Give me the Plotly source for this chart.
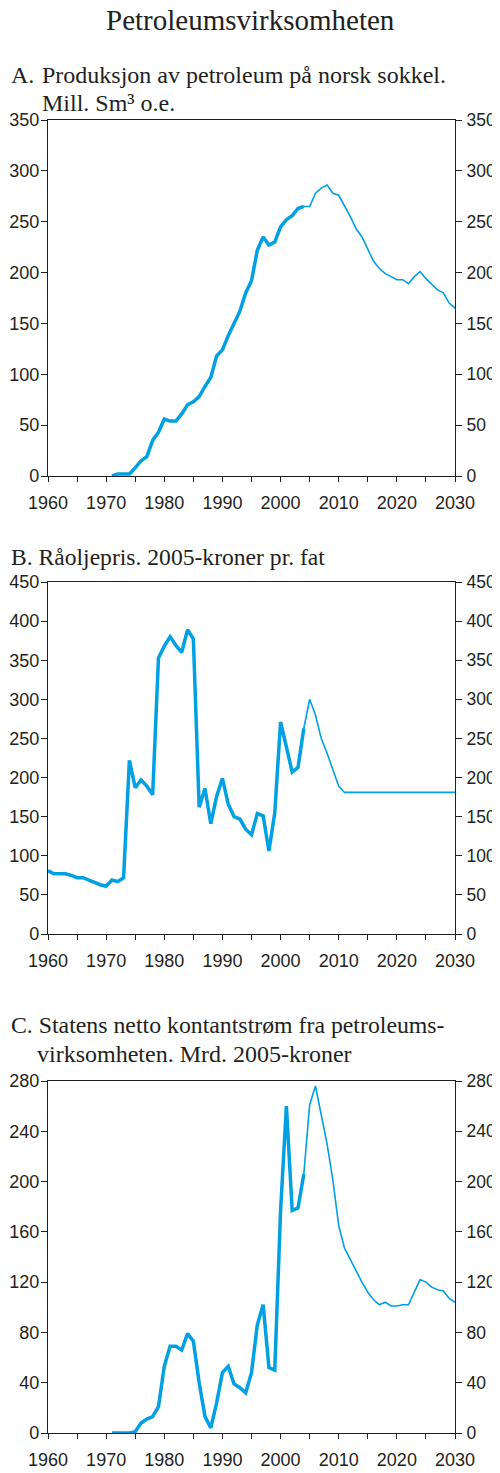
import plotly.graph_objects as go

# Panel A: production, mill. Sm3 o.e.
years_a_hist = list(range(1971, 2005))
prod_hist = [0, 2, 2, 2, 8, 15, 19, 35, 43, 56, 54, 54, 61, 70, 73, 78, 88, 97, 118, 124,
             138, 151, 162, 180, 192, 222, 235, 227, 230, 245, 252, 256, 263, 265]
years_a_proj = list(range(2004, 2031))
prod_proj = [265, 265, 278, 283, 286, 278, 276, 266, 255, 243, 235, 223, 211, 204, 199,
             196, 193, 193, 189, 196, 201, 194, 188, 183, 180, 170, 165]

# Panel B: crude oil price, 2005-kroner per barrel
years_b_hist = list(range(1960, 2005))
price_hist = [81, 77, 77, 77, 75, 72, 72, 69, 65, 63, 61, 69, 67, 72, 222, 187, 197, 189,
              178, 353, 368, 380, 369, 360, 389, 377, 162, 186, 141, 176, 199, 166, 150,
              147, 134, 127, 154, 151, 106, 155, 271, 240, 207, 213, 263]
years_b_proj = list(range(2004, 2031))
price_proj = [263, 300, 280, 250, 231, 210, 189, 181, 181, 181, 181, 181, 181, 181, 181,
              181, 181, 181, 181, 181, 181, 181, 181, 181, 181, 181, 181]

# Panel C: state's net cash flow, bn 2005-kroner
years_c_hist = list(range(1971, 2005))
cash_hist = [0, 0, 0, 0, 1, 8, 11, 13, 21, 53, 69, 69, 66, 79, 73, 40, 13, 4, 24, 48,
             53, 39, 36, 32, 48, 86, 102, 52, 50, 177, 260, 177, 179, 206]
years_c_proj = list(range(2004, 2031))
cash_proj = [206, 261, 276, 253, 230, 201, 165, 147, 138, 128, 120, 112, 106, 102, 104,
             101, 101, 102, 102, 112, 122, 120, 116, 114, 113, 107, 104]

x_tickvals = [1960, 1970, 1980, 1990, 2000, 2010, 2020, 2030]

y_ticks_a = [0, 50, 100, 150, 200, 250, 300, 350]
y_ticks_b = [0, 50, 100, 150, 200, 250, 300, 350, 400, 450]
y_ticks_c = [0, 40, 80, 120, 160, 200, 240, 280]

# page body has an 8px margin, so the figure sits 8px in from the window corner
OFF = 8
W, H = 492, 1465
BLUE = "#00a0e3"
INK = "#231f20"
SANS = "Liberation Sans, Arial, sans-serif"
SERIF = "Liberation Serif, Times New Roman, serif"


def fx(px):
    return (px - OFF) / W


def fy(py):
    return 1 - (py - OFF) / H


x_dom = [fx(48), fx(455)]
panels = [
    (years_a_hist, prod_hist, years_a_proj, prod_proj, y_ticks_a, 120, 476),
    (years_b_hist, price_hist, years_b_proj, price_proj, y_ticks_b, 582, 934),
    (years_c_hist, cash_hist, years_c_proj, cash_proj, y_ticks_c, 1081, 1433),
]

fig = go.Figure()
layout = {}
for i, (xh, yh, xp, yp, yt, top, bot) in enumerate(panels):
    n = i + 1
    xa = "x" if n == 1 else "x%d" % n
    ya = "y" if n == 1 else "y%d" % n
    ra = "y%d" % (n + 3)
    fig.add_trace(go.Scatter(x=xh, y=yh, mode="lines", xaxis=xa, yaxis=ya,
                             line=dict(color=BLUE, width=3.5), showlegend=False))
    fig.add_trace(go.Scatter(x=xp, y=yp, mode="lines", xaxis=xa, yaxis=ya,
                             line=dict(color=BLUE, width=1.6), showlegend=False))
    fig.add_trace(go.Scatter(x=[None], y=[None], xaxis=xa, yaxis=ra, showlegend=False,
                             hoverinfo="skip"))
    dom = [fy(bot), fy(top)]
    yr = [yt[0], yt[-1]]
    layout["xaxis" if n == 1 else "xaxis%d" % n] = dict(
        domain=x_dom, anchor=ya, range=[1960, 2030], tickvals=x_tickvals,
        ticks="outside", ticklen=5, tickwidth=1.2, tickcolor=INK,
        minor=dict(ticks="outside", ticklen=5, tickwidth=1.2, tickcolor=INK, dtick=5,
                   tick0=1960, showgrid=False),
        showline=True, linecolor=INK, linewidth=1.2, mirror=True, showgrid=False,
        zeroline=False, automargin=False, ticklabelstandoff=5,
        tickfont=dict(family=SANS, size=18, color=INK))
    yax = dict(domain=dom, range=yr, tickvals=yt, ticks="outside", ticklen=6,
               tickwidth=1.2, tickcolor=INK, showline=True, linecolor=INK, linewidth=1.2,
               showgrid=False, zeroline=False, automargin=False)
    layout["yaxis" if n == 1 else "yaxis%d" % n] = dict(
        yax, anchor=xa, side="left", ticklabelstandoff=-2,
        tickfont=dict(family=SANS, size=18, color=INK))
    layout["yaxis%d" % (n + 3)] = dict(
        yax, anchor=xa, side="right", overlaying=ya, ticklabelstandoff=1,
        tickfont=dict(family=SANS, size=17.5, color=INK))

fig.update_layout(**layout)

notes = [
    ("Petroleumsvirksomheten", 250, 20, "center", 29),
    ("A.", 9, 75, "left", 24),
    ("Produksjon av petroleum på norsk sokkel.", 40, 75, "left", 24),
    ("Mill. Sm³ o.e.", 40, 103, "left", 24),
    ("B. Råoljepris. 2005-kroner pr. fat", 9, 557, "left", 23.6),
    ("C. Statens netto kontantstrøm fra petroleums-", 9, 1025, "left", 23.8),
    ("virksomheten. Mrd. 2005-kroner", 35, 1054, "left", 24),
]
for text, xp, yp, anchor, size in notes:
    fig.add_annotation(text=text, x=fx(xp), y=fy(yp), xref="paper", yref="paper",
                       xanchor=anchor, yanchor="middle", align="left", showarrow=False,
                       font=dict(family=SERIF, size=size, color=INK))

fig.update_layout(width=W, height=H, margin=dict(l=0, r=0, t=0, b=0),
                  plot_bgcolor="white", paper_bgcolor="white")

fig.write_html("out.html")
